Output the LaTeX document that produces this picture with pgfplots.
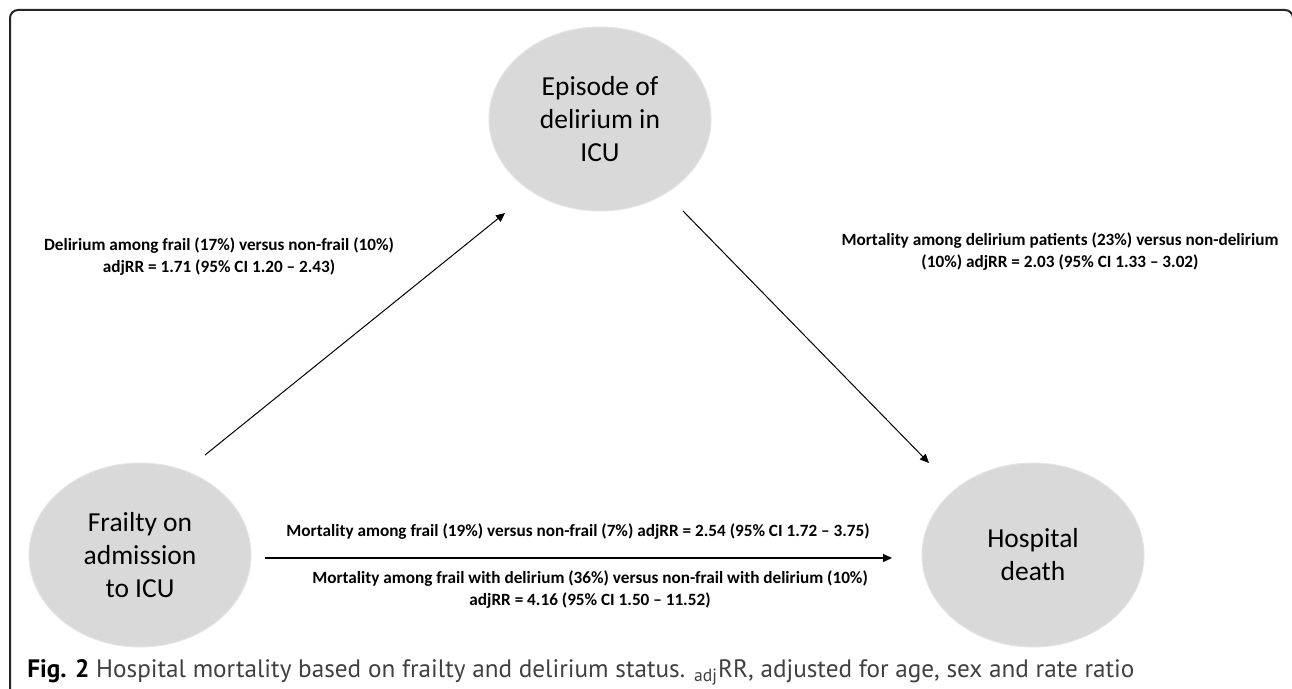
\documentclass[border=0pt]{standalone}
\usepackage{fontspec}
\setmainfont{Carlito}
\newfontfamily\capfont{PT Sans}
\usepackage{pgfplots}
\pgfplotsset{compat=1.18}
\usetikzlibrary{shapes.geometric,arrows.meta}
\definecolor{nodegray}{HTML}{D9D9D9}
\begin{document}
\begin{tikzpicture}
\path[use as bounding box] (0,0) rectangle (646bp,344.5bp);
\begin{axis}[at={(0,0)}, anchor=south west, scale only axis,
  width=646bp, height=344.5bp,
  xmin=0, xmax=1292, ymin=0, ymax=689, y dir=reverse,
  hide axis, clip=false]
% frame
\draw[line width=1bp, black!85, rounded corners=4bp]
  (axis cs:10,720) -- (axis cs:10,10) -- (axis cs:1293,10) -- (axis cs:1293,720);
% arrows
\addplot[black, line width=0.5bp, -{Triangle[length=4.5bp,width=4bp]}] coordinates {(205,455) (505,213)};
\addplot[black, line width=0.5bp, -{Triangle[length=4.5bp,width=4bp]}] coordinates {(683,211) (929,463)};
\addplot[black, line width=0.6bp, -{Triangle[length=4.5bp,width=4bp]}] coordinates {(265,558) (892,558)};
% nodes
\tikzset{bub/.style={ellipse, fill=nodegray, draw=nodegray!70, line width=0.5bp, minimum width=111bp, minimum height=92bp, inner sep=0pt, align=center, font=\fontsize{13.75bp}{16.5bp}\selectfont}}
\node[bub] at (axis cs:600,119) {Episode of\\delirium in\\ICU};
\node[bub] at (axis cs:140,555) {Frailty on\\admission\\to ICU};
\node[bub] at (axis cs:1033,555) {Hospital\\death};
% labels
\tikzset{lab/.style={align=center, inner sep=0pt, font=\bfseries\fontsize{8.6bp}{11bp}\selectfont}}
\node[lab] at (axis cs:219,257) {Delirium among frail (17\%) versus non-frail (10\%)\\adjRR = 1.71 (95\% CI 1.20 -- 2.43)};
\node[lab] at (axis cs:1060,252) {Mortality among delirium patients (23\%) versus non-delirium\\(10\%) adjRR = 2.03 (95\% CI 1.33 -- 3.02)};
\node[lab] at (axis cs:578,532) {Mortality among frail (19\%) versus non-frail (7\%) adjRR = 2.54 (95\% CI 1.72 -- 3.75)};
\node[lab] at (axis cs:590,590) {Mortality among frail with delirium (36\%) versus non-frail with delirium (10\%)\\adjRR = 4.16 (95\% CI 1.50 -- 11.52)};
% caption
\node[anchor=west, inner sep=0pt, text=black!75, font=\capfont\fontsize{12.6bp}{14bp}\selectfont] at (axis cs:27,672)
  {\textbf{\color{black}Fig. 2} Hospital mortality based on frailty and delirium status. \textsubscript{adj}RR, adjusted for age, sex and rate ratio};
\end{axis}
\end{tikzpicture}
\end{document}
